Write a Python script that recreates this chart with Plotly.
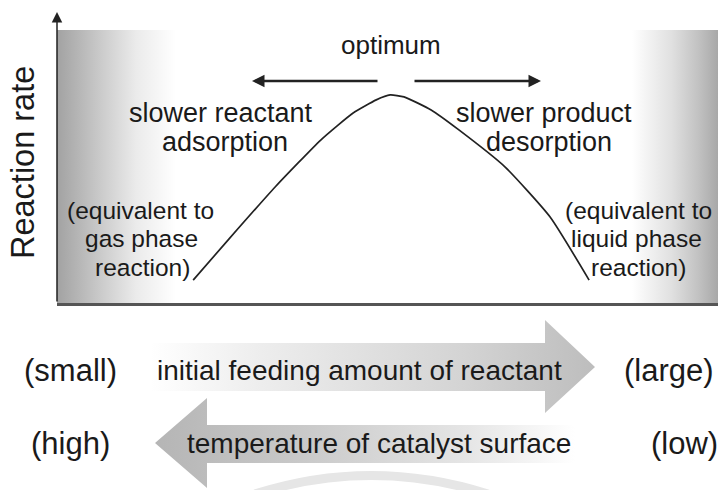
import plotly.graph_objects as go

W, H = 718, 490

# ---- data (arbitrary units: feeding amount 0-10, reaction rate 0-10) ----
feed = [2.06, 2.60, 3.30, 3.99, 4.48, 4.83, 5.04, 5.25, 5.66, 6.08, 6.78, 7.46, 8.05]
rate = [0.84, 2.34, 4.25, 5.97, 6.96, 7.44, 7.62, 7.55, 7.07, 6.34, 4.98, 3.15, 0.84]

y_title = "Reaction rate"
top_label = "optimum"
left_mid = ["slower reactant", "adsorption"]
right_mid = ["slower product", "desorption"]
left_low = ["(equivalent to", "gas phase", "reaction)"]
right_low = ["(equivalent to", "liquid phase", "reaction)"]
row1 = ["(small)", "initial feeding amount of reactant", "(large)"]
row2 = ["(high)", "temperature of catalyst surface", "(low)"]

FONT = "Liberation Sans, Arial, sans-serif"
INK = "#1a1a1a"


def px(x):
    return x / W


def py(y):
    return 1 - y / H


fig = go.Figure()

# gray shaded background of the plot box
fig.add_trace(go.Scatter(
    x=[0, 10, 10, 0, 0], y=[0, 0, 10, 10, 0], mode="none", fill="toself",
    fillgradient=dict(type="horizontal", start=0, stop=10,
                      colorscale=[[0, "#a2a2a2"], [0.03, "#b4b4b4"], [0.07, "#cdcdcd"],
                                  [0.12, "#ebebeb"], [0.18, "#ffffff"], [0.87, "#ffffff"],
                                  [0.93, "#e0e0e0"], [0.97, "#c2c2c2"], [1, "#a8a8a8"]]),
    hoverinfo="skip", showlegend=False, xaxis="x", yaxis="y"))

# the curve
fig.add_trace(go.Scatter(
    x=feed, y=rate, mode="lines",
    line=dict(color="#222222", width=1.7, shape="spline", smoothing=0.5),
    hoverinfo="skip", showlegend=False, xaxis="x", yaxis="y"))

# bottom gradient arrows (decorative, in a full-width helper axis)
fig.add_trace(go.Scatter(
    x=[150, 545, 545, 595, 545, 545, 150, 150],
    y=[343, 343, 320, 367, 413, 391, 391, 343],
    mode="none", fill="toself",
    fillgradient=dict(type="horizontal", start=150, stop=595,
                      colorscale=[[0, "#ffffff"], [0.25, "#ededed"], [0.7, "#d4d4d4"], [1, "#bdbdbd"]]),
    hoverinfo="skip", showlegend=False, xaxis="x2", yaxis="y2"))
fig.add_trace(go.Scatter(
    x=[575, 207, 207, 155, 207, 207, 575, 575],
    y=[425, 425, 398, 443, 488, 463, 463, 425],
    mode="none", fill="toself",
    fillgradient=dict(type="horizontal", start=155, stop=575,
                      colorscale=[[0, "#b5b5b5"], [0.35, "#c9c9c9"], [0.75, "#e6e6e6"], [1, "#ffffff"]]),
    hoverinfo="skip", showlegend=False, xaxis="x2", yaxis="y2"))

shapes = [dict(type="path", xref="x2", yref="y2",
               path="M 255 494 Q 371 457 488 494",
               line=dict(color="#e6e6e6", width=9))]

ann = []


def txt(s, x, y, size, angle=0):
    ann.append(dict(text=s, x=px(x), y=py(y), xref="paper", yref="paper",
                    xanchor="center", yanchor="middle", showarrow=False,
                    textangle=angle, font=dict(family=FONT, size=size, color=INK)))


txt(y_title, 23, 163, 32.5, -90)
txt(top_label, 391, 45, 26)
for s, yy, xx in zip(left_mid, [113, 142], [221, 225]):
    txt(s, xx, yy, 27)
for s, yy, xx in zip(right_mid, [113, 142], [544, 549]):
    txt(s, xx, yy, 27)
for s, yy, xx in zip(left_low, [210, 238, 267], [140, 141, 142]):
    txt(s, xx, yy, 24.5)
for s, yy, xx in zip(right_low, [210, 238, 267], [638, 636, 638]):
    txt(s, xx, yy, 24.5)
for s, xx, sz in zip(row1, [70, 359, 669], [31, 28, 31]):
    txt(s, xx, 370, sz)
for s, xx, sz in zip(row2, [70, 379, 684], [31, 28, 31]):
    txt(s, xx, 443, sz)


def arrow(tipx, tipy, tailx, taily, width, size):
    ann.append(dict(text="", x=px(tipx), y=py(tipy), xref="paper", yref="paper",
                    ax=tailx - tipx, ay=taily - tipy, axref="pixel", ayref="pixel",
                    showarrow=True, arrowhead=2, arrowsize=size, arrowwidth=width,
                    arrowcolor="#222222"))


arrow(57, 12, 57, 303, 1.5, 1.4)
arrow(252, 81, 379, 81, 2.5, 1.0)
arrow(541, 81, 413, 81, 2.5, 1.0)

fig.update_layout(
    width=W, height=H, margin=dict(l=0, r=0, t=0, b=0),
    paper_bgcolor="white", plot_bgcolor="rgba(0,0,0,0)",
    xaxis=dict(domain=[px(57), 1], range=[0, 10], showgrid=False, zeroline=False,
               showticklabels=False, ticks="", showline=True, linecolor="#555555",
               linewidth=3, fixedrange=True),
    yaxis=dict(domain=[py(303), py(30)], range=[0, 10], showgrid=False, zeroline=False,
               showticklabels=False, ticks="", showline=False, fixedrange=True),
    xaxis2=dict(domain=[0, 1], range=[0, W], visible=False, anchor="y2", fixedrange=True),
    yaxis2=dict(domain=[0, py(303)], range=[H, 303], visible=False, anchor="x2", fixedrange=True),
    shapes=shapes, annotations=ann, showlegend=False,
)

fig.write_html("out.html", config={"displayModeBar": False},
               post_script="document.body.style.margin='0px';document.body.style.overflow='hidden';")
